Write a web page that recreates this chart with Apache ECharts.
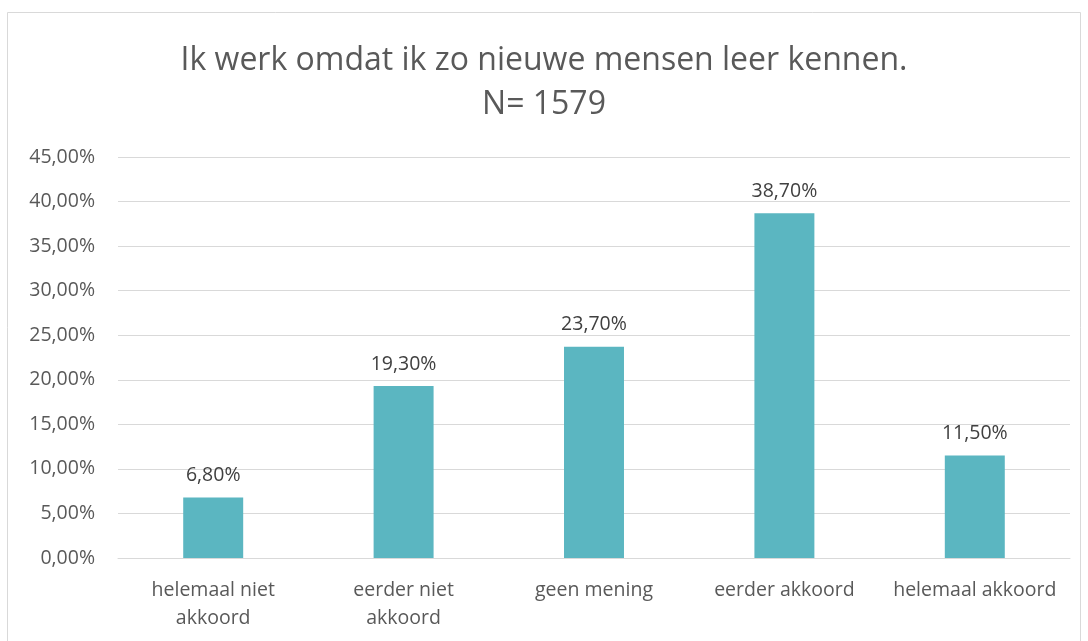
<!DOCTYPE html>
<html>
<head>
<meta charset="utf-8">
<script src="https://cdn.jsdelivr.net/npm/echarts@6/dist/echarts.min.js"></script>
<style>
  html, body { margin: 0; padding: 0; background: #ffffff; }
  #chart { width: 1088px; height: 641px; }
</style>
</head>
<body>
<div id="chart"></div>
<script>
// Survey answers and their shares (percent)
const categories = ['helemaal niet\nakkoord', 'eerder niet\nakkoord', 'geen mening', 'eerder akkoord', 'helemaal akkoord'];
const values = [6.8, 19.3, 23.7, 38.7, 11.5];
const titleLines = ['Ik werk omdat ik zo nieuwe mensen leer kennen.', 'N= 1579'];

const fmt = v => v.toFixed(2).replace('.', ',') + '%';
const font = 'Open Sans, Noto Sans, sans-serif';

const chart = echarts.init(document.getElementById('chart'), null, { renderer: 'canvas' });
chart.setOption({
  backgroundColor: '#ffffff',
  animation: false,
  title: {
    text: titleLines.join('\n'),
    left: 'center',
    top: 34,
    textStyle: { fontFamily: font, fontSize: 32, fontWeight: 'normal', color: '#595959', lineHeight: 44 }
  },
  graphic: [{
    type: 'rect',
    shape: { x: 7.5, y: 12.5, width: 1073, height: 640 },
    style: { fill: 'none', stroke: '#d9d9d9', lineWidth: 1 },
    silent: true
  }],
  grid: { left: 118, right: 18, top: 157, bottom: 83 },
  xAxis: {
    type: 'category',
    data: categories,
    axisLine: { show: true, lineStyle: { color: '#d9d9d9', width: 1 } },
    axisTick: { show: false },
    axisLabel: { interval: 0, hideOverlap: false, fontFamily: font, fontSize: 19.5, color: '#595959', margin: 18, lineHeight: 28 }
  },
  yAxis: {
    type: 'value',
    min: 0,
    max: 45,
    interval: 5,
    axisLine: { show: false },
    axisTick: { show: false },
    splitLine: { lineStyle: { color: '#d9d9d9', width: 1 } },
    axisLabel: { fontFamily: font, fontSize: 19.5, color: '#595959', margin: 23, formatter: v => fmt(v) }
  },
  series: [{
    type: 'bar',
    data: values,
    barWidth: '31.5%',
    itemStyle: { color: '#5bb6c1' },
    label: {
      show: true,
      position: 'top',
      distance: 12,
      fontFamily: font,
      fontSize: 19.5,
      color: '#404040',
      formatter: p => fmt(p.value)
    }
  }]
});
</script>
</body>
</html>
